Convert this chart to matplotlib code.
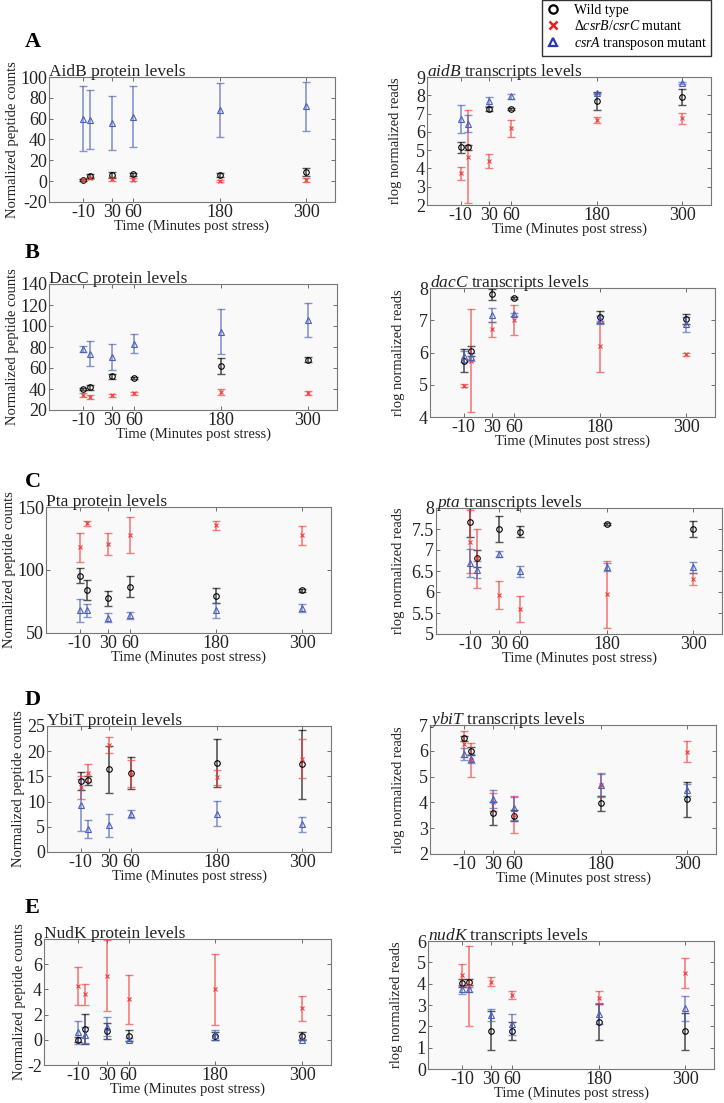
import matplotlib
matplotlib.use("Agg")
import matplotlib.pyplot as plt
from matplotlib.lines import Line2D
import numpy as np

plt.rcParams['font.family'] = ['Liberation Serif', 'DejaVu Serif']
plt.rcParams['mathtext.fontset'] = 'custom'
plt.rcParams['mathtext.rm'] = 'Liberation Serif'
plt.rcParams['mathtext.it'] = 'Liberation Serif:italic'

# ---------------- data ----------------
times = [-10, 0, 30, 60, 180, 300]
xtick_vals = [-10, 30, 60, 180, 300]

# AidB protein
aidb_p_wt = [1.5, 5, 6, 6.5, 6, 9]
aidb_p_wt_e = [1, 2, 3, 1.5, 2, 4]
aidb_p_bc = [1.5, 3, 2, 1.5, 0.5, 1]
aidb_p_bc_e = [1, 1, 2, 1.5, 1, 2]
aidb_p_a = [60, 59, 56, 62, 68, 72]
aidb_p_a_e = [31.5, 28.5, 26, 29.5, 26, 23.5]
# aidB transcripts
aidb_t_wt = [5.15, 5.15, 7.25, 7.25, 7.67, 7.9]
aidb_t_wt_e = [0.3, 0.15, 0.1, 0.05, 0.5, 0.45]
aidb_t_bc = [3.74, 4.65, 4.4, 6.2, 6.66, 6.75]
aidb_t_bc_e = [0.35, 2.55, 0.37, 0.46, 0.16, 0.3]
aidb_t_a = [6.7, 6.45, 7.67, 7.94, 8.1, 8.68]
aidb_t_a_e = [0.75, 0.47, 0.25, 0.15, 0.05, 0.05]

# DacC protein
dacc_p_wt = [40.3, 41.5, 52, 50.5, 61.8, 68]
dacc_p_wt_e = [1, 2, 2, 1, 7.7, 2.5]
dacc_p_bc = [34.5, 32.5, 34, 36, 37, 36]
dacc_p_bc_e = [2, 2, 1.5, 1.5, 3, 2]
dacc_p_a = [77.9, 73.7, 70.5, 83.3, 94.6, 106]
dacc_p_a_e = [2.7, 12.2, 12.4, 9.3, 21.7, 16]
# dacC transcripts
dacc_t_wt = [5.75, 6.05, 7.8, 7.69, 7.1, 7.03]
dacc_t_wt_e = [0.35, 0.15, 0.18, 0.03, 0.18, 0.15]
dacc_t_bc = [4.97, 5.75, 6.72, 7.0, 6.19, 5.95]
dacc_t_bc_e = [0.05, 1.6, 0.24, 0.47, 0.8, 0.05]
dacc_t_a = [5.88, 5.85, 7.16, 7.18, 7.0, 6.87]
dacc_t_a_e = [0.18, 0.12, 0.22, 0.05, 0.12, 0.22]

# Pta protein
pta_p_wt = [95.5, 84, 77.4, 86.7, 79.5, 83.8]
pta_p_wt_e = [5.7, 7.7, 6.2, 8.2, 6, 1.5]
pta_p_bc = [118, 137.2, 120.7, 127.7, 135.4, 127.4]
pta_p_bc_e = [11.6, 2, 8.4, 14.5, 3.3, 7.3]
pta_p_a = [68, 68, 62, 64, 68, 70]
pta_p_a_e = [9.3, 5.3, 3.5, 3, 5.8, 3.3]
# pta transcripts
pta_t_wt = [7.66, 6.8, 7.5, 7.44, 7.62, 7.5]
pta_t_wt_e = [0.34, 0.2, 0.31, 0.13, 0.03, 0.18]
pta_t_bc = [7.2, 6.8, 5.93, 5.6, 5.95, 6.31]
pta_t_bc_e = [0.75, 0.7, 0.33, 0.31, 0.8, 0.14]
pta_t_a = [6.69, 6.53, 6.9, 6.49, 6.6, 6.59]
pta_t_a_e = [0.33, 0.2, 0.07, 0.14, 0.1, 0.13]

# YbiT protein
ybit_p_wt = [14.1, 14.2, 16.4, 15.7, 17.6, 17.4]
ybit_p_wt_e = [1.7, 0.9, 4.6, 3.2, 4.8, 6.8]
ybit_p_bc = [12.8, 15.7, 21.2, 15.5, 14.8, 18.5]
ybit_p_bc_e = [2.3, 1.8, 1.6, 2.7, 1.5, 3.9]
ybit_p_a = [9.3, 4.6, 5.3, 7.6, 7.6, 5.5]
ybit_p_a_e = [5.1, 1.8, 2.3, 0.8, 2.5, 1.5]
# ybiT transcripts
ybit_t_wt = [6.48, 6.0, 3.58, 3.49, 3.96, 4.12]
ybit_t_wt_e = [0.1, 0.15, 0.45, 0.23, 0.28, 0.68]
ybit_t_bc = [6.25, 5.64, 4.03, 3.53, 4.67, 5.97]
ybit_t_bc_e = [0.5, 0.65, 0.35, 0.73, 0.47, 0.42]
ybit_t_a = [5.88, 5.7, 4.13, 3.77, 4.67, 4.48]
ybit_t_a_e = [0.24, 0.17, 0.35, 0.45, 0.42, 0.23]

# NudK protein
nudk_p_wt = [0.0, 0.87, 0.7, 0.33, 0.3, 0.3]
nudk_p_wt_e = [0.2, 1.2, 0.6, 0.45, 0.3, 0.35]
nudk_p_bc = [4.25, 3.6, 5.1, 3.2, 4.0, 2.5]
nudk_p_bc_e = [1.5, 0.8, 2.8, 1.95, 2.8, 1.0]
nudk_p_a = [0.6, 0.4, 1.05, 0.02, 0.4, 0.0]
nudk_p_a_e = [0.9, 0.65, 0.75, 0.1, 0.4, 0.05]
# nudK transcripts
nudk_t_wt = [4.04, 4.09, 1.8, 1.79, 2.2, 1.76]
nudk_t_wt_e = [0.2, 0.15, 0.9, 0.43, 0.85, 0.85]
nudk_t_bc = [4.4, 3.9, 4.09, 3.47, 3.34, 4.5]
nudk_t_bc_e = [0.5, 1.87, 0.22, 0.2, 0.3, 0.68]
nudk_t_a = [3.73, 3.73, 2.53, 2.1, 2.6, 2.85]
nudk_t_a_e = [0.23, 0.1, 0.3, 0.5, 0.48, 0.58]

legend_labels = ['Wild type', r'$\Delta\mathit{csrB/csrC}$ mutant', r'$\mathit{csrA}$ transposon mutant']
panel_letters = ['A', 'B', 'C', 'D', 'E']

# ---------------- figure ----------------
W, H = 724, 1103
fig = plt.figure(figsize=(W / 100, H / 100), dpi=100)

C_WT = 'black'
C_BC = '#f03c3c'
C_A = '#4a5fb8'


def px_axes(l, t, r, b):
    return fig.add_axes([l / W, 1 - b / H, (r - l) / W, (b - t) / H])


def draw_panel(pos, title, ylabel, ylim, yticks, ytlabels, series, ypad=1):
    ax = px_axes(*pos)
    ax.set_facecolor('#f9f9f9')
    for (y, e, col, mk, ms) in series:
        ax.errorbar(times, y, yerr=e, fmt='none', ecolor=col, alpha=0.65,
                    elinewidth=1.2, capsize=3, capthick=1.0, zorder=2)
    for (y, e, col, mk, ms) in series:
        ax.plot(times, y, linestyle='none', marker=mk, markersize=ms,
                markerfacecolor='none', markeredgecolor=col,
                markeredgewidth=0.8, zorder=3)
    ax.set_xlim(-57, 340)
    ax.set_ylim(*ylim)
    ax.set_xticks(xtick_vals)
    ax.set_xticklabels([str(v) for v in xtick_vals])
    ax.set_yticks(yticks)
    ax.set_yticklabels(ytlabels)
    ax.tick_params(direction='in', length=3, width=0.6, colors='#555555',
                   labelcolor='#222222', labelsize=13, pad=1.5,
                   right=True, top=True)
    for s in ax.spines.values():
        s.set_color('#777777')
        s.set_linewidth(0.8)
    ax.set_title(title, loc='left', fontsize=12.5, pad=1, color='#222222')
    ax.set_ylabel(ylabel, fontsize=10.5, labelpad=ypad, color='#222222')
    ax.set_xlabel('Time (Minutes post stress)', fontsize=10.5, labelpad=-1,
                  color='#222222')
    return ax


def fmt(v):
    return '%g' % v


def trio(wt, wte, bc, bce, a, ae):
    return [(wt, wte, C_WT, 'o', 4.0),
            (bc, bce, C_BC, 'x', 2.8),
            (a, ae, C_A, '^', 4.5)]


left_pos = [(49, 77, 335, 202), (49, 284, 337, 410), (46, 507, 331, 633),
            (47, 726, 331, 852), (44, 939, 331, 1065)]
right_pos = [(427, 77, 711, 205), (430, 288, 715, 417), (436, 508, 722, 634),
             (430, 725, 716, 854), (428, 941, 714, 1069)]

prot_ylabel = 'Normalized peptide counts'
tr_ylabel = 'rlog normalized reads'

# A
yt = list(range(-20, 101, 20))
draw_panel(left_pos[0], 'AidB protein levels', prot_ylabel, (-20, 100), yt,
           [fmt(v) for v in yt],
           trio(aidb_p_wt, aidb_p_wt_e, aidb_p_bc, aidb_p_bc_e, aidb_p_a, aidb_p_a_e))
yt = list(range(2, 10))
draw_panel(right_pos[0], r'$\mathit{aidB}$ transcripts levels', tr_ylabel, (2, 9), yt,
           [fmt(v) for v in yt],
           trio(aidb_t_wt, aidb_t_wt_e, aidb_t_bc, aidb_t_bc_e, aidb_t_a, aidb_t_a_e),
           ypad=10)
# B
yt = list(range(20, 141, 20))
draw_panel(left_pos[1], 'DacC protein levels', prot_ylabel, (20, 140), yt,
           [fmt(v) for v in yt],
           trio(dacc_p_wt, dacc_p_wt_e, dacc_p_bc, dacc_p_bc_e, dacc_p_a, dacc_p_a_e))
yt = list(range(4, 9))
draw_panel(right_pos[1], r'$\mathit{dacC}$ transcripts levels', tr_ylabel, (4, 8), yt,
           [fmt(v) for v in yt],
           trio(dacc_t_wt, dacc_t_wt_e, dacc_t_bc, dacc_t_bc_e, dacc_t_a, dacc_t_a_e),
           ypad=10)
# C
yt = [50, 100, 150]
draw_panel(left_pos[2], 'Pta protein levels', prot_ylabel, (50, 150), yt,
           [fmt(v) for v in yt],
           trio(pta_p_wt, pta_p_wt_e, pta_p_bc, pta_p_bc_e, pta_p_a, pta_p_a_e))
yt = list(np.arange(5, 8.01, 0.5))
draw_panel(right_pos[2], r'$\mathit{pta}$ transcripts levels', tr_ylabel, (5, 8), yt,
           [fmt(v) for v in yt],
           trio(pta_t_wt, pta_t_wt_e, pta_t_bc, pta_t_bc_e, pta_t_a, pta_t_a_e),
           ypad=5)
# D
yt = list(range(0, 26, 5))
draw_panel(left_pos[3], 'YbiT protein levels', prot_ylabel, (0, 25), yt,
           [fmt(v) for v in yt],
           trio(ybit_p_wt, ybit_p_wt_e, ybit_p_bc, ybit_p_bc_e, ybit_p_a, ybit_p_a_e))
yt = list(range(2, 8))
draw_panel(right_pos[3], r'$\mathit{ybiT}$ transcripts levels', tr_ylabel, (2, 7), yt,
           [fmt(v) for v in yt],
           trio(ybit_t_wt, ybit_t_wt_e, ybit_t_bc, ybit_t_bc_e, ybit_t_a, ybit_t_a_e),
           ypad=10)
# E
yt = list(range(-2, 9, 2))
draw_panel(left_pos[4], 'NudK protein levels', prot_ylabel, (-2, 8), yt,
           [fmt(v) for v in yt],
           trio(nudk_p_wt, nudk_p_wt_e, nudk_p_bc, nudk_p_bc_e, nudk_p_a, nudk_p_a_e))
yt = list(range(0, 7))
draw_panel(right_pos[4], r'$\mathit{nudK}$ transcripts levels', tr_ylabel, (0, 6), yt,
           [fmt(v) for v in yt],
           trio(nudk_t_wt, nudk_t_wt_e, nudk_t_bc, nudk_t_bc_e, nudk_t_a, nudk_t_a_e),
           ypad=10)

# panel letters
letter_y = [47, 258, 487, 705, 913]
for letter, yy in zip(panel_letters, letter_y):
    fig.text(25 / W, 1 - yy / H, letter, fontsize=16, fontweight='bold',
             ha='left', va='baseline')

# legend box
handles = [Line2D([], [], linestyle='none', marker='o', markersize=6,
                  markerfacecolor='none', markeredgecolor=C_WT, markeredgewidth=1.6),
           Line2D([], [], linestyle='none', marker='x', markersize=6,
                  markeredgecolor='#e81e1e', markeredgewidth=1.8),
           Line2D([], [], linestyle='none', marker='^', markersize=6,
                  markerfacecolor='none', markeredgecolor='#2a35b0', markeredgewidth=1.6)]
leg = fig.legend(handles, legend_labels, loc='upper right',
                 bbox_to_anchor=(711 / W, 1 - 0 / H), fontsize=10,
                 frameon=True, fancybox=False, edgecolor='black',
                 handlelength=1.0, handletextpad=1.0, borderpad=0.3,
                 labelspacing=0.12, borderaxespad=0)
leg.get_frame().set_linewidth(1.0)

fig.savefig('out.png', dpi=100, facecolor='white')
